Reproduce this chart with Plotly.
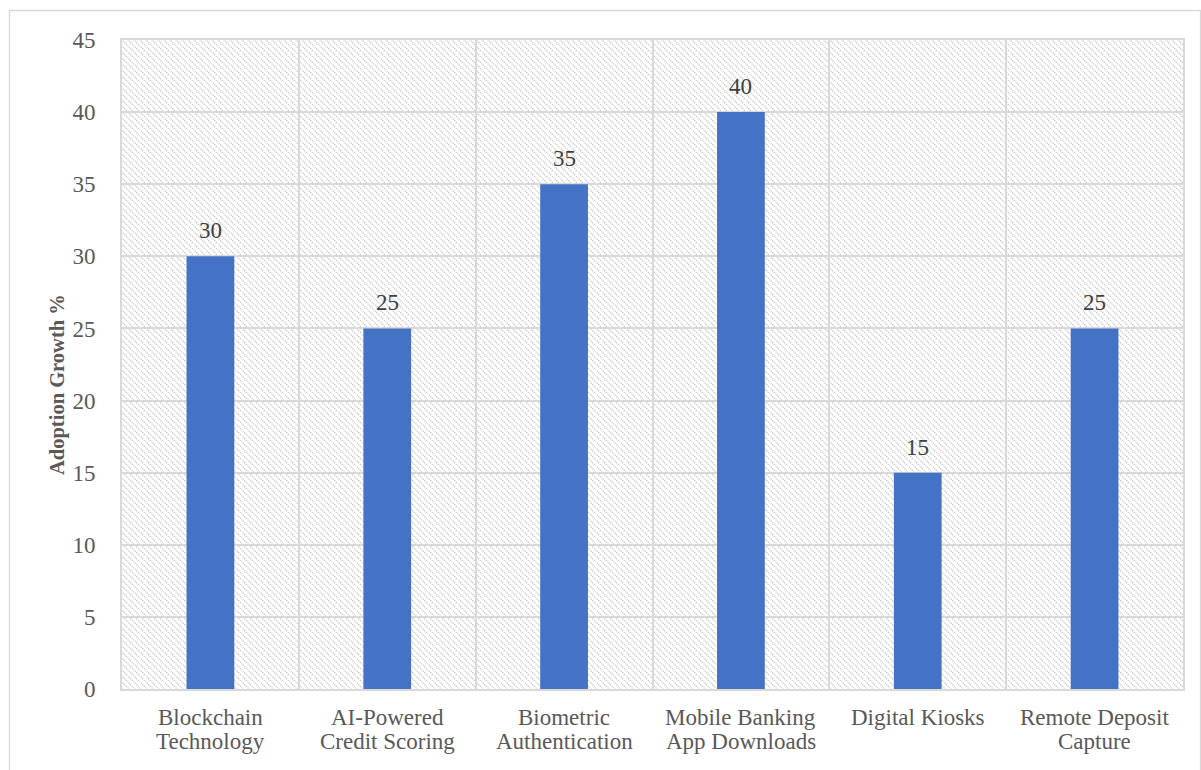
import base64
import plotly.graph_objects as go

categories = ["Blockchain<br>Technology", "AI-Powered<br>Credit Scoring", "Biometric<br>Authentication",
              "Mobile Banking<br>App Downloads", "Digital Kiosks", "Remote Deposit<br>Capture"]
values = [30, 25, 35, 40, 15, 25]
y_ticks = [0, 5, 10, 15, 20, 25, 30, 35, 40, 45]
y_title = "Adoption Growth %"

FONT = "Liberation Serif"
TXT = "#595959"
GRID = "#d9d9d9"

W, H = 1201, 770
L, R, T, B = 122, 18, 40, 81
PW, PH = W - L - R, H - T - B

svg = f'''<svg xmlns="http://www.w3.org/2000/svg" width="{PW}" height="{PH}" viewBox="0 0 {PW} {PH}">
<defs><pattern id="p" patternUnits="userSpaceOnUse" width="6" height="6">
<path d="M-1,-1 L7,7 M-1,5 L1,7 M5,-1 L7,1" stroke="#c6c6c6" stroke-width="1.3" stroke-dasharray="1.4,0.9"/>
</pattern></defs>
<rect width="{PW}" height="{PH}" fill="white"/>
<rect width="{PW}" height="{PH}" fill="url(#p)"/>
</svg>'''
src = "data:image/svg+xml;base64," + base64.b64encode(svg.encode()).decode()

x_idx = list(range(len(categories)))

fig = go.Figure()
fig.add_trace(go.Bar(
    x=x_idx, y=values, width=0.27, marker=dict(color="#4472C4", line=dict(width=0)),
    hoverinfo="skip",
))

annotations = []
for i, v in enumerate(values):
    annotations.append(dict(
        x=i, xref="x", y=v, yref="y", yanchor="bottom", xanchor="center",
        yshift=11, text=str(v), showarrow=False,
        font=dict(family=FONT, size=23, color="#404040"),
    ))
for i, c in enumerate(categories):
    lines = c.split("<br>")
    for j, ln in enumerate(lines):
        annotations.append(dict(
            x=i, xref="x", y=0, yref="paper", yanchor="top", xanchor="center",
            yshift=-14 - j * 23.5, text=ln, showarrow=False,
            font=dict(family=FONT, size=23, color=TXT),
        ))
annotations.append(dict(
    x=(57 - L) / PW, xref="paper", y=(T + PH - 385) / PH, yref="paper",
    xanchor="center", yanchor="middle", textangle=-90, showarrow=False,
    text=f"<b>{y_title}</b>", font=dict(family=FONT, size=20.5, color=TXT),
))

fig.update_layout(
    width=W, height=H, margin=dict(l=L, r=R, t=T, b=B),
    paper_bgcolor="white", plot_bgcolor="white",
    font=dict(family=FONT, color=TXT),
    showlegend=False,
    annotations=annotations,
    images=[dict(source=src, xref="paper", yref="paper", x=0, y=1, sizex=1, sizey=1,
                 xanchor="left", yanchor="top", sizing="stretch", layer="below")],
    shapes=[dict(type="rect", xref="paper", yref="paper",
                 x0=(9.5 - L) / PW, x1=(1200.5 - L) / PW,
                 y0=-(B + 20) / PH, y1=1 + (T - 10.5) / PH,
                 line=dict(color=GRID, width=1.3), fillcolor="rgba(0,0,0,0)", layer="below")],
    xaxis=dict(
        type="linear", range=[-0.5, len(categories) - 0.5],
        tickvals=[i - 0.5 for i in range(len(categories) + 1)], showticklabels=False,
        showgrid=True, gridcolor=GRID, gridwidth=1.8, zeroline=False,
        showline=True, linecolor=GRID, linewidth=1.8, mirror=True, ticks="",
    ),
    yaxis=dict(
        range=[0, 45], tickvals=y_ticks, showgrid=True, gridcolor=GRID, gridwidth=1.8,
        zeroline=False, showline=True, linecolor=GRID, linewidth=1.8, mirror=True, ticks="",
        ticklabelstandoff=20,
        tickfont=dict(family=FONT, size=23, color=TXT),
    ),
)

fig.write_html("out.html")
